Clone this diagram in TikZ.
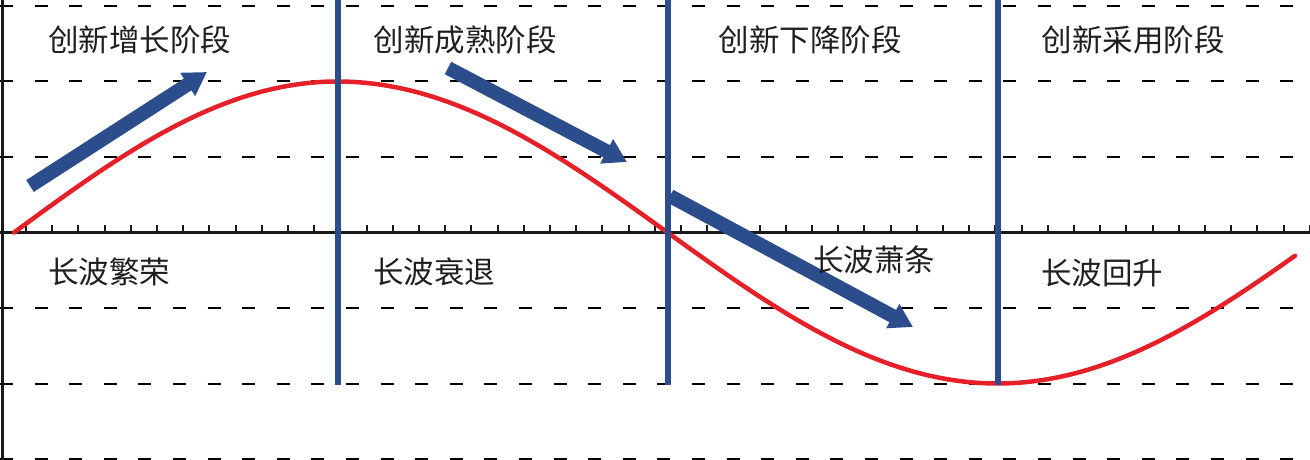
\documentclass[tikz,border=0pt]{standalone}
\usepackage{fontspec}
\newfontfamily\cjk{Noto Sans CJK SC}
\usetikzlibrary{arrows.meta}
\definecolor{wblue}{RGB}{44,77,140}
\definecolor{wred}{RGB}{230,32,40}
\begin{document}
\begin{tikzpicture}[x=1pt,y=-1pt,
  gridline/.style={line width=2pt, dash pattern=on 13pt off 21.6pt},
  lbl/.style={font=\cjk\fontsize{30.5}{36}\selectfont, inner sep=0pt, text=black!88},
  phaseline/.style={wblue, line width=6pt},
  blockarrow/.style={wblue, line width=14pt, -{Triangle[length=23pt,width=26pt]}},
  axisline/.style={black!90, line width=2.5pt},
  tickline/.style={black!90, line width=2pt},
  wave/.style={wred, line width=4.5pt, line join=round, line cap=round},
]
\useasboundingbox (0,0) rectangle (1310,460);
\fill[white] (0,0) rectangle (1310,460);
% dashed grid
\foreach \j in {-3,-2,-1,1,2,3}
  \draw[gridline] (0,232.5+75.5*\j) -- (1310,232.5+75.5*\j);
% axes
\draw[axisline] (0,232.5) -- (1310,232.5);
\foreach \k in {0,...,49}
  \draw[tickline] (26+26.2*\k,232.5) -- ++(0,-8);
\draw[axisline] (2.5,0) -- (2.5,460);
% wave
\draw[wave] plot[domain=14:337.5, samples=80, smooth] (\x,{232.5-151*sin(((\x-14)/323.5)*90)})
  -- plot[domain=337.5:1295, samples=200, smooth] (\x,{232.5-151*sin(90+((\x-337.5)/330)*90)});
% arrows
\draw[blockarrow] (30,186) -- (207,72);
\draw[blockarrow] (448,68) -- (627,162);
\draw[blockarrow] (670,196) -- (913,327);
% phase lines
\foreach \px in {337.5,667.5,997.5}
  \draw[phaseline] (\px,0) -- (\px,385);
% labels
\node[lbl] (t1) at (140,40) {创新增长阶段};
\node[lbl] (t2) at (465,40) {创新成熟阶段};
\node[lbl] (t3) at (810,40) {创新下降阶段};
\node[lbl] (t4) at (1133,40) {创新采用阶段};
\node[lbl] (b1) at (109,272) {长波繁荣};
\node[lbl] (b2) at (434,272) {长波衰退};
\node[lbl] (b3) at (874,260) {长波萧条};
\node[lbl] (b4) at (1102,273) {长波回升};
\end{tikzpicture}
\end{document}
